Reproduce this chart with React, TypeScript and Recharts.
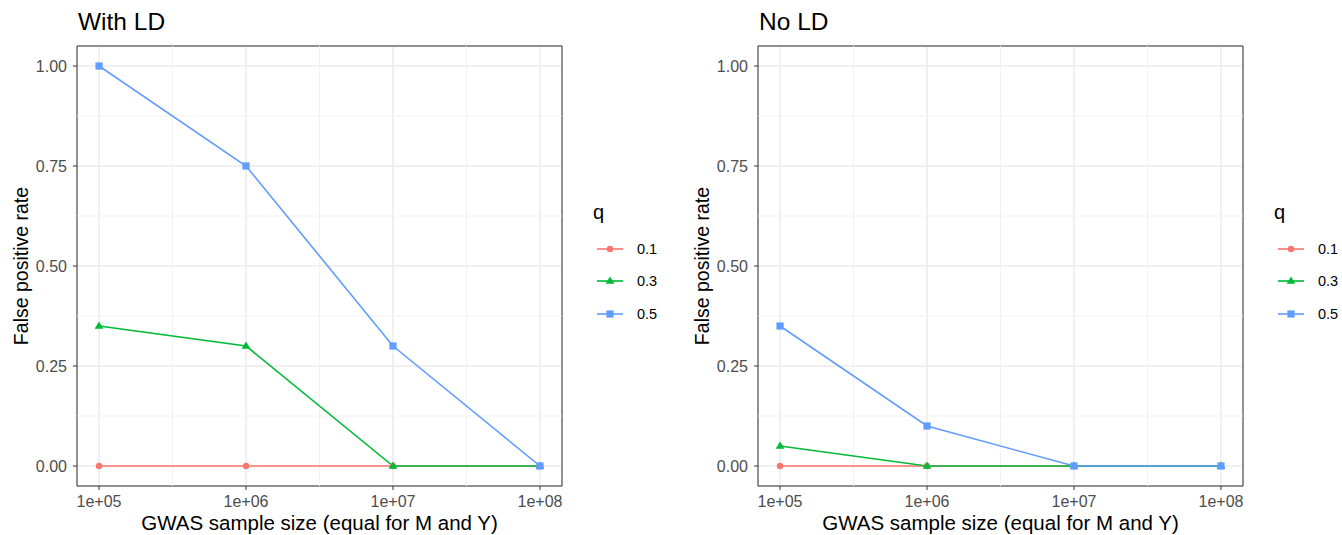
import React from 'react';
import {
  LineChart,
  Line,
  XAxis,
  YAxis,
  CartesianGrid,
  ReferenceLine,
  ReferenceArea,
  Legend,
  Label,
} from 'recharts';

const FONT = '"Liberation Sans", Arial, Helvetica, sans-serif';

const sampleSizes = [1e5, 1e6, 1e7, 1e8];
const qLevels = ['0.1', '0.3', '0.5'];
const qKeys = ['q01', 'q03', 'q05'];
const qShapes = ['circle', 'triangle', 'square'];
const qColors = ['#F8766D', '#00BA38', '#619CFF'];

const withLD_q01 = [0, 0, 0, 0];
const withLD_q03 = [0.35, 0.3, 0, 0];
const withLD_q05 = [1.0, 0.75, 0.3, 0];

const noLD_q01 = [0, 0, 0, 0];
const noLD_q03 = [0.05, 0, 0, 0];
const noLD_q05 = [0.35, 0.1, 0, 0];

const xTicks = [1e5, 1e6, 1e7, 1e8];
const xMinorTicks = [10 ** 5.5, 10 ** 6.5, 10 ** 7.5];
const yTicks = [0, 0.25, 0.5, 0.75, 1];
const yMinorTicks = [0.125, 0.375, 0.625, 0.875];
const xDomain: [number, number] = [10 ** 4.85, 10 ** 8.15];
const yDomain: [number, number] = [-0.05, 1.05];

const xTitle = 'GWAS sample size (equal for M and Y)';
const yTitle = 'False positive rate';
const legendTitle = 'q';

function buildRows(a: number[], b: number[], c: number[]) {
  return sampleSizes.map((n, i) => ({ n, q01: a[i], q03: b[i], q05: c[i] }));
}

const withLDData = buildRows(withLD_q01, withLD_q03, withLD_q05);
const noLDData = buildRows(noLD_q01, noLD_q03, noLD_q05);

const fmtX = (v: number) => {
  const e = Math.round(Math.log10(v));
  return `1e+${e < 10 ? '0' + e : e}`;
};
const fmtY = (v: number) => v.toFixed(2);

function Marker({ shape, cx, cy, color }: any) {
  if (cx == null || cy == null) return null;
  if (shape === 'circle') return <circle cx={cx} cy={cy} r={3.2} fill={color} />;
  if (shape === 'triangle')
    return (
      <polygon
        points={`${cx},${cy - 4.6} ${cx - 4.4},${cy + 2.8} ${cx + 4.4},${cy + 2.8}`}
        fill={color}
      />
    );
  return <rect x={cx - 3.6} y={cy - 3.6} width={7.2} height={7.2} fill={color} />;
}

const XTitle = (props: any) => {
  const vb = props.viewBox || {};
  return (
    <text
      x={vb.x + vb.width / 2}
      y={vb.y + 44}
      textAnchor="middle"
      fontSize={20.5}
      fontFamily={FONT}
      fill="#000000"
    >
      {xTitle}
    </text>
  );
};

const YTitle = (props: any) => {
  const vb = props.viewBox || {};
  const x = vb.x + 28;
  const y = vb.y + vb.height / 2;
  return (
    <text
      x={x}
      y={y}
      textAnchor="middle"
      fontSize={19.5}
      fontFamily={FONT}
      fill="#000000"
      transform={`rotate(-90, ${x}, ${y})`}
    >
      {yTitle}
    </text>
  );
};

const LegendContent = () => (
  <svg width={80} height={140} style={{ display: 'block', overflow: 'visible' }}>
    <text x={10} y={29} fontSize={20} fontFamily={FONT} fill="#000000">
      {legendTitle}
    </text>
    {qLevels.map((lv, i) => {
      const cy = [59, 91, 124][i];
      return (
        <g key={lv}>
          <line x1={14} x2={40} y1={cy} y2={cy} stroke={qColors[i]} strokeWidth={1.6} />
          <Marker shape={qShapes[i]} cx={27} cy={cy} color={qColors[i]} />
          <text x={54} y={cy + 5} fontSize={14.5} fontFamily={FONT} fill="#000000">
            {lv}
          </text>
        </g>
      );
    })}
  </svg>
);

function Panel({ title, data, width, left }: any) {
  return (
    <div style={{ position: 'absolute', left, top: 0, width, height: 535 }}>
      <LineChart
        width={width}
        height={535}
        data={data}
        margin={{ top: 46, right: width - 562, bottom: 0, left: 0 }}
        style={{ fontFamily: FONT }}
      >
        <CartesianGrid stroke="#EBEBEB" strokeWidth={1.4} />
        {xMinorTicks.map((v) => (
          <ReferenceLine key={'xm' + v} x={v} stroke="#F2F2F2" strokeWidth={1} />
        ))}
        {yMinorTicks.map((v) => (
          <ReferenceLine key={'ym' + v} y={v} stroke="#F2F2F2" strokeWidth={1} />
        ))}
        <XAxis
          dataKey="n"
          type="number"
          scale="log"
          domain={xDomain}
          ticks={xTicks}
          interval={0}
          allowDataOverflow
          tickFormatter={fmtX}
          axisLine={false}
          tickLine={{ stroke: '#333333' }}
          tickSize={4}
          tickMargin={6}
          height={49}
          tick={{ fill: '#4D4D4D', fontSize: 16, fontFamily: FONT }}
        >
          <Label content={XTitle} />
        </XAxis>
        <YAxis
          type="number"
          domain={yDomain}
          ticks={yTicks}
          interval={0}
          allowDataOverflow
          tickFormatter={fmtY}
          axisLine={false}
          tickLine={{ stroke: '#333333' }}
          tickSize={4}
          tickMargin={6}
          width={77}
          tick={{ fill: '#4D4D4D', fontSize: 16, fontFamily: FONT }}
        >
          <Label content={YTitle} />
        </YAxis>
        {qKeys.map((k, i) => (
          <Line
            key={k}
            dataKey={k}
            type="linear"
            stroke={qColors[i]}
            strokeWidth={1.6}
            isAnimationActive={false}
            dot={(p: any) => (
              <Marker key={k + p.index} shape={qShapes[i]} cx={p.cx} cy={p.cy} color={qColors[i]} />
            )}
            activeDot={false}
          />
        ))}
        <ReferenceArea
          x1={xDomain[0]}
          x2={xDomain[1]}
          y1={yDomain[0]}
          y2={yDomain[1]}
          fill="none"
          fillOpacity={0}
          stroke="#333333"
          strokeWidth={1}
          ifOverflow="visible"
        />
        <Legend
          layout="vertical"
          align="center"
          verticalAlign="middle"
          content={LegendContent}
          wrapperStyle={{ left: 583, top: 190, width: 80, height: 140 }}
        />
      </LineChart>
      <svg
        width={300}
        height={40}
        style={{ position: 'absolute', left: 0, top: 0, pointerEvents: 'none' }}
      >
        <text x={78} y={30} fontSize={24.5} fontFamily={FONT} fill="#000000">
          {title}
        </text>
      </svg>
    </div>
  );
}

export default function App() {
  return (
    <div
      style={{
        position: 'absolute',
        left: 0,
        top: 0,
        width: 1342,
        height: 535,
        overflow: 'hidden',
        background: '#FFFFFF',
      }}
    >
      <Panel title="With LD" data={withLDData} width={671} left={0} />
      <Panel title="No LD" data={noLDData} width={661} left={681} />
    </div>
  );
}
